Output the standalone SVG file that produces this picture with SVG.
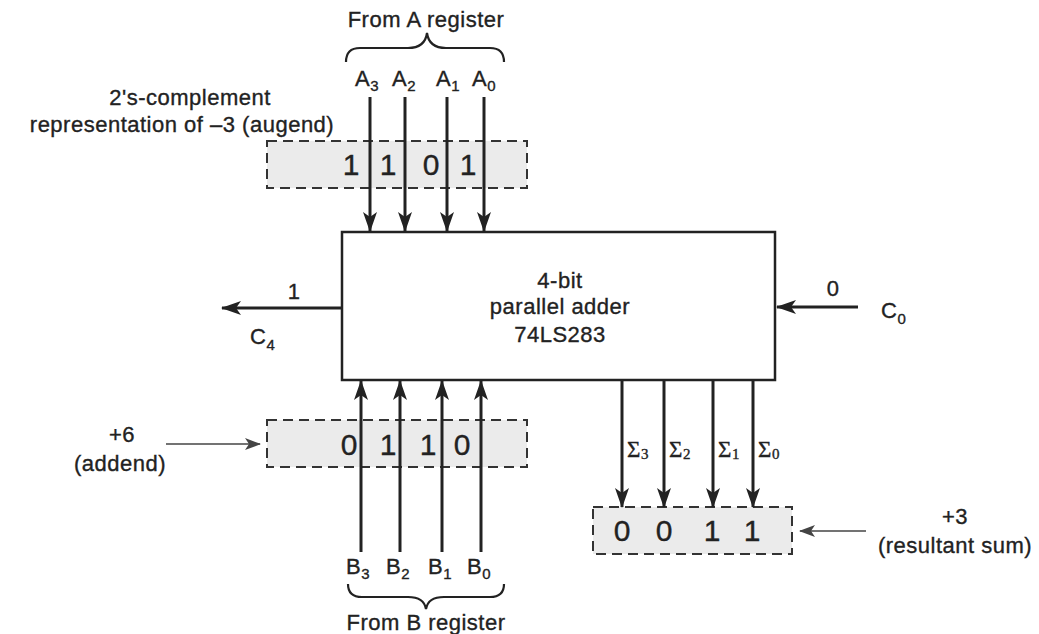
<svg xmlns="http://www.w3.org/2000/svg" width="1039" height="634" viewBox="0 0 1039 634">
<style>
text{font-family:"Liberation Sans",Arial,sans-serif;font-size:22px;fill:#222;stroke:#222;stroke-width:0.35;text-anchor:middle;letter-spacing:0.5px}
.st{text-anchor:start}
.sub{font-size:15px;letter-spacing:0}
.dig{font-size:30px;letter-spacing:0}
.sig{font-family:"Liberation Serif","Times New Roman",serif;font-size:23px}
.ln{stroke:#222;stroke-width:3;fill:none}
.thin{stroke:#444;stroke-width:1.6;fill:none}
.reg{fill:#ebebeb;stroke:#333;stroke-width:2;stroke-dasharray:10 6}
.brace{stroke:#222;stroke-width:2.2;fill:none}
</style>
<defs>
<marker id="ah" viewBox="0 0 20 14" refX="19" refY="7" markerWidth="20" markerHeight="14" markerUnits="userSpaceOnUse" orient="auto">
<path d="M0,0 L20,7 L0,14 L5,7 Z" fill="#222"/>
</marker>
<marker id="ahs" viewBox="0 0 16 12" refX="15" refY="6" markerWidth="16" markerHeight="12" markerUnits="userSpaceOnUse" orient="auto">
<path d="M0,0 L16,6 L0,12 L4,6 Z" fill="#444"/>
</marker>
</defs>
<rect width="1039" height="634" fill="#fff"/>

<g id="registers">
<rect class="reg" x="267" y="141" width="260" height="47"/>
<rect class="reg" x="267" y="420" width="260" height="47"/>
<rect class="reg" x="593" y="507" width="199" height="47"/>
</g>

<g id="adder">
<rect x="342" y="232" width="433" height="148" fill="#fff" stroke="#222" stroke-width="2.5"/>
<text x="560" y="288">4-bit</text>
<text x="560" y="314">parallel adder</text>
<text x="560" y="342">74LS283</text>
</g>

<g id="connectors">
<line class="ln" x1="370" y1="97" x2="370" y2="231" marker-end="url(#ah)"/>
<line class="ln" x1="405" y1="97" x2="405" y2="231" marker-end="url(#ah)"/>
<line class="ln" x1="447" y1="97" x2="447" y2="231" marker-end="url(#ah)"/>
<line class="ln" x1="484" y1="97" x2="484" y2="231" marker-end="url(#ah)"/>
<line class="ln" x1="361" y1="552" x2="361" y2="381" marker-end="url(#ah)"/>
<line class="ln" x1="400" y1="552" x2="400" y2="381" marker-end="url(#ah)"/>
<line class="ln" x1="442" y1="552" x2="442" y2="381" marker-end="url(#ah)"/>
<line class="ln" x1="481" y1="552" x2="481" y2="381" marker-end="url(#ah)"/>
<line class="ln" x1="622" y1="380" x2="622" y2="507" marker-end="url(#ah)"/>
<line class="ln" x1="664" y1="380" x2="664" y2="507" marker-end="url(#ah)"/>
<line class="ln" x1="713" y1="380" x2="713" y2="507" marker-end="url(#ah)"/>
<line class="ln" x1="753" y1="380" x2="753" y2="507" marker-end="url(#ah)"/>
<line class="ln" x1="342" y1="308" x2="222" y2="308" marker-end="url(#ah)"/>
<line class="ln" x1="858" y1="307" x2="777" y2="307" marker-end="url(#ah)"/>
<line class="thin" x1="166" y1="444" x2="260" y2="444" marker-end="url(#ahs)"/>
<line class="thin" x1="866" y1="531" x2="800" y2="531" marker-end="url(#ahs)"/>
</g>

<g id="a-labels">
<text x="426" y="27">From A register</text>
<path class="brace" d="M346,62 Q346,48 360,48 L408,48 Q425,48 427,33 Q429,48 446,48 L490,48 Q504,48 504,62"/>
<text class="st" x="355" y="86">A<tspan class="sub" dy="5">3</tspan></text>
<text class="st" x="392" y="86">A<tspan class="sub" dy="5">2</tspan></text>
<text class="st" x="436" y="86">A<tspan class="sub" dy="5">1</tspan></text>
<text class="st" x="472" y="86">A<tspan class="sub" dy="5">0</tspan></text>
<text x="190" y="105">2's-complement</text>
<text x="182" y="132">representation of –3 (augend)</text>
<text class="dig" x="351" y="175">1</text>
<text class="dig" x="388" y="175">1</text>
<text class="dig" x="431" y="175">0</text>
<text class="dig" x="468" y="175">1</text>
</g>

<g id="b-labels">
<text class="dig" x="349" y="455">0</text>
<text class="dig" x="388" y="455">1</text>
<text class="dig" x="428" y="455">1</text>
<text class="dig" x="462" y="455">0</text>
<text x="122" y="442">+6</text>
<text x="120" y="471">(addend)</text>
<text class="st" x="346" y="574">B<tspan class="sub" dy="5">3</tspan></text>
<text class="st" x="386" y="574">B<tspan class="sub" dy="5">2</tspan></text>
<text class="st" x="428" y="574">B<tspan class="sub" dy="5">1</tspan></text>
<text class="st" x="467" y="574">B<tspan class="sub" dy="5">0</tspan></text>
<path class="brace" d="M348,584 Q348,597 362,597 L408,597 Q424,597 426,609 Q428,597 444,597 L490,597 Q504,597 504,584"/>
<text x="426" y="630">From B register</text>
</g>

<g id="sum-labels">
<text class="st sig" x="627" y="457">Σ<tspan class="sub" dy="2">3</tspan></text>
<text class="st sig" x="669" y="457">Σ<tspan class="sub" dy="2">2</tspan></text>
<text class="st sig" x="718" y="457">Σ<tspan class="sub" dy="2">1</tspan></text>
<text class="st sig" x="758" y="457">Σ<tspan class="sub" dy="2">0</tspan></text>
<text class="dig" x="622" y="541">0</text>
<text class="dig" x="664" y="541">0</text>
<text class="dig" x="712" y="541">1</text>
<text class="dig" x="752" y="541">1</text>
<text x="955" y="524">+3</text>
<text x="955" y="553">(resultant sum)</text>
</g>

<g id="carry-labels">
<text x="294" y="299">1</text>
<text class="st" x="250" y="344">C<tspan class="sub" dy="6">4</tspan></text>
<text x="833" y="296">0</text>
<text class="st" x="881" y="318">C<tspan class="sub" dy="6">0</tspan></text>
</g>
</svg>
